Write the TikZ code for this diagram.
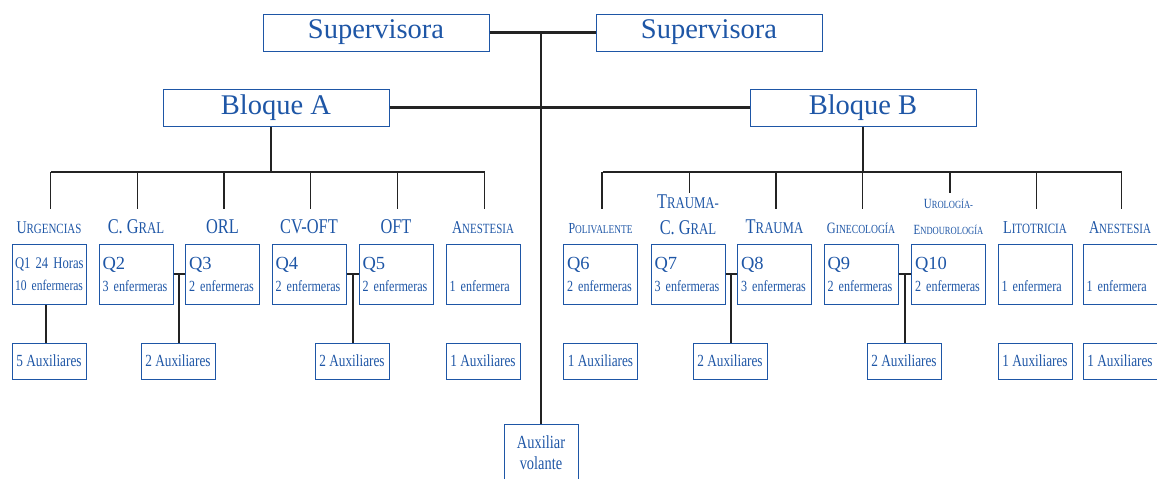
\documentclass[tikz,border=0pt]{standalone}
\usepackage{fontspec}
\setmainfont{Liberation Serif}
\newfontfamily\narrowrm{Liberation Serif}[FakeStretch=0.78]
\usetikzlibrary{positioning}
\definecolor{orgblue}{RGB}{30,86,166}
\definecolor{linegray}{RGB}{35,35,35}
\newcommand\smc[2]{#1\scalebox{.78}{#2}}
\newcommand\qfont{\rmfamily\fontsize{18.5}{22}\selectfont}
\newcommand\hfont[1]{\narrowrm\fontsize{#1}{26}\selectfont}

\begin{document}
\begin{tikzpicture}[
x=1pt,y=-1pt,
box/.style={
  draw=orgblue,
  line width=1pt,
  text=orgblue,
  inner sep=0pt
  },
topbox/.style={box,minimum width=226,minimum height=37,font=\fontsize{28.5}{30}\selectfont},
qbox/.style={box,minimum height=60,text width=71,inner xsep=1.5,align=left,
  font=\narrowrm\fontsize{15.5}{22}\selectfont},
auxbox/.style={box,minimum width=74,minimum height=36,font=\narrowrm\fontsize{17}{20}\selectfont},
head/.style={text=orgblue,inner sep=0pt,anchor=south,align=center},
bus/.style={line width=2.2pt,draw=linegray},
link/.style={line width=1.2pt,draw=linegray}
]
\useasboundingbox (0,0) rectangle (1157,479);

% cabecera
\node[topbox] (sup1) at (376,32.5) {Supervisora};
\node[topbox] (sup2) at (709,32.5) {Supervisora};
\node[topbox] (blqA) at (276,107.5) {Bloque A};
\node[topbox] (blqB) at (863,107.5) {Bloque B};
\node[box,minimum width=74,minimum height=58,align=center,
  font=\narrowrm\fontsize{18.5}{21}\selectfont] (vol) at (541,453) {Auxiliar\\volante};

% bloque A
\node[qbox] (q1) at (49,274) {\hspace{1.5pt}\mbox{\fontsize{16.2}{22}\selectfont Q1 24 Horas}\\
  \hspace{1.5pt}\mbox{\fontsize{14.8}{22}\selectfont 10 enfermeras}};
\node[qbox] (q2) at (136,274) {\hspace{2pt}{\qfont Q2}\\\hspace{2pt}3 enfermeras};
\node[qbox] (q3) at (222.5,274) {\hspace{2pt}{\qfont Q3}\\\hspace{2pt}2 enfermeras};
\node[qbox] (q4) at (309,274) {\hspace{2pt}{\qfont Q4}\\\hspace{2pt}2 enfermeras};
\node[qbox] (q5) at (396,274) {\hspace{2pt}{\qfont Q5}\\\hspace{2pt}2 enfermeras};
\node[qbox] (anA) at (483,274) {{\qfont\vphantom{Q}}\\\hspace{2pt}1 enfermera};

\node[head,font=\hfont{18}] at (q1 |- 0,234) {\smc{U}{RGENCIAS}};
\node[head,font=\hfont{21}] at (q2 |- 0,234) {C. \smc{G}{RAL}};
\node[head,font=\hfont{21}] at (q3 |- 0,234) {ORL};
\node[head,font=\hfont{21}] at (q4 |- 0,234) {CV-OFT};
\node[head,font=\hfont{21}] at (q5 |- 0,234) {OFT};
\node[head,font=\hfont{18}] at (anA |- 0,234) {\smc{A}{NESTESIA}};

\node[auxbox] (aux1) at (49,361) {5 Auxiliares};
\node[auxbox] (aux2) at (178,361) {2 Auxiliares};
\node[auxbox] (aux3) at (352,361) {2 Auxiliares};
\node[auxbox] (aux4) at (483,361) {1 Auxiliares};

% bloque B
\node[qbox] (q6) at (600.5,274) {\hspace{2pt}{\qfont Q6}\\\hspace{2pt}2 enfermeras};
\node[qbox] (q7) at (688,274) {\hspace{2pt}{\qfont Q7}\\\hspace{2pt}3 enfermeras};
\node[qbox] (q8) at (774.5,274) {\hspace{2pt}{\qfont Q8}\\\hspace{2pt}3 enfermeras};
\node[qbox] (q9) at (861,274) {\hspace{2pt}{\qfont Q9}\\\hspace{2pt}2 enfermeras};
\node[qbox] (q10) at (948.5,274) {\hspace{2pt}{\qfont Q10}\\\hspace{2pt}2 enfermeras};
\node[qbox] (lit) at (1035,274) {{\qfont\vphantom{Q}}\\\hspace{2pt}1 enfermera};
\node[qbox] (anB) at (1120,274) {{\qfont\vphantom{Q}}\\\hspace{2pt}1 enfermera};

\node[head,font=\hfont{15.3}] at (q6 |- 0,234) {\smc{P}{OLIVALENTE}};
\node[head,font=\hfont{21}] at (q7 |- 0,235) {\smc{T}{RAUMA-}\\C. \smc{G}{RAL}};
\node[head,font=\hfont{21}] at (q8 |- 0,234) {\smc{T}{RAUMA}};
\node[head,font=\hfont{15.8}] at (q9 |- 0,234) {\smc{G}{INECOLOGÍA}};
\node[head,font=\hfont{14}] at (q10 |- 0,235) {\smc{U}{ROLOGÍA-}\\\smc{E}{NDOUROLOGÍA}};
\node[head,font=\hfont{18.2}] at (lit |- 0,234) {\smc{L}{ITOTRICIA}};
\node[head,font=\hfont{18}] at (anB |- 0,234) {\smc{A}{NESTESIA}};

\node[auxbox] (aux5) at (600.5,361) {1 Auxiliares};
\node[auxbox] (aux6) at (730,361) {2 Auxiliares};
\node[auxbox] (aux7) at (904,361) {2 Auxiliares};
\node[auxbox] (aux8) at (1035,361) {1 Auxiliares};
\node[auxbox] (aux9) at (1120,361) {1 Auxiliares};

% conexiones
\coordinate (bus) at (0,172);
\coordinate (dropend) at (0,209);
\coordinate (dropend2) at (0,193);
\draw[bus] (sup1.east) -- (sup2.west);
\draw[link] (sup1.east -| vol.north) -- (vol.north);
\draw[bus] (blqA.east) -- (blqB.west);
\draw[link] ([xshift=-5pt]blqA.south) -- ([xshift=-5pt]blqA.south |- bus);
\draw[link] (blqB.south) -- (blqB.south |- bus);
\draw[bus] ([xshift=1.5pt]q1 |- bus) -- ([xshift=1.5pt]anA |- bus);
\draw[bus] ([xshift=2pt]q6 |- bus) -- ([xshift=2pt]anB |- bus);
\foreach \c in {q1,q2,q3,q4,q5,anA,q6,q8,q9,lit,anB}
  \draw[link] ([xshift=1.5pt]\c |- bus) -- ([xshift=1.5pt]\c |- dropend);
\foreach \c in {q7,q10}
  \draw[link] ([xshift=1.5pt]\c |- bus) -- ([xshift=1.5pt]\c |- dropend2);
\draw[link] ([xshift=-3pt]q1.south) -- ([xshift=-3pt]aux1.north);
\foreach \a/\b/\x in {q2/q3/aux2,q4/q5/aux3,q7/q8/aux6,q9/q10/aux7}{
  \draw[bus] (\a.east) -- (\b.west);
  \draw[link] ([xshift=1pt]\x.north |- \a.east) -- ([xshift=1pt]\x.north);
}
\end{tikzpicture}
\end{document}
